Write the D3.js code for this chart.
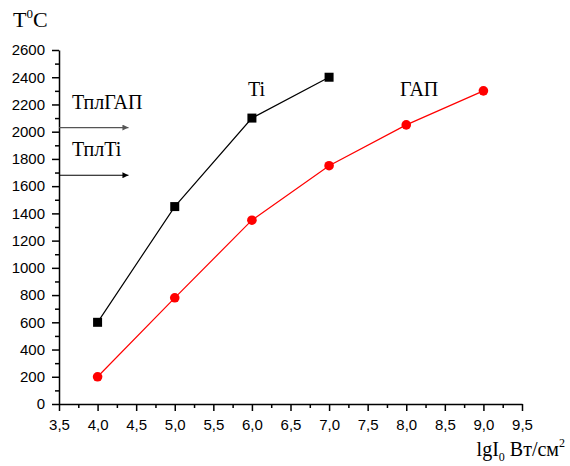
<!DOCTYPE html>
<html><head><meta charset="utf-8">
<script src="https://cdn.jsdelivr.net/npm/d3@7"></script>
<style>body{margin:0;background:#fff}</style>
</head><body>
<svg id="c" width="570" height="466"></svg>
<script>
const xTicks = [3.5,4.0,4.5,5.0,5.5,6.0,6.5,7.0,7.5,8.0,8.5,9.0,9.5];
const yTicks = [0,200,400,600,800,1000,1200,1400,1600,1800,2000,2200,2400,2600];
const tiX = [4,5,6,7];
const tiY = [600,1450,2100,2400];
const gapX = [4,5,6,7,8,9];
const gapY = [200,780,1350,1750,2050,2300];
const meltLevels = [2030,1680]; // Тпл ГАП, Тпл Ti
const meltLabels = ["ТплГАП","ТплTi"];

const svg = d3.select("#c");
const x = d3.scaleLinear().domain([3.5,9.5]).range([59,522]);
const y = d3.scaleLinear().domain([0,2600]).range([404,50]);

const fmt = d => d.toFixed(1).replace(".", ",");
// X axis
const xa = svg.append("g").attr("transform","translate(0,404)");
xa.call(d3.axisBottom(x).tickValues(xTicks).tickFormat(fmt).tickSize(7).tickSizeOuter(0).tickPadding(8));
xa.append("g").call(d3.axisBottom(x).tickValues(d3.range(3.75,9.5,0.5)).tickFormat("").tickSize(4).tickSizeOuter(0))
  .select(".domain").remove();
// Y axis
const ya = svg.append("g").attr("transform","translate(59,0)");
ya.call(d3.axisLeft(y).tickValues(yTicks).tickFormat(d3.format("d")).tickSize(7).tickSizeOuter(0).tickPadding(7));
ya.append("g").call(d3.axisLeft(y).tickValues(d3.range(100,2600,200)).tickFormat("").tickSize(4).tickSizeOuter(0))
  .select(".domain").remove();
svg.selectAll(".tick text").attr("font-family","Liberation Sans, Arial, sans-serif").attr("font-size",15).attr("fill","#000");
svg.selectAll(".domain, .tick line").attr("stroke","#000").attr("stroke-width",1.5);

// Melting arrows
const defs = svg.append("defs");
["#555","#000"].forEach((c,i)=>{
  defs.append("marker").attr("id","ar"+i).attr("viewBox","0 0 10 10").attr("refX",10).attr("refY",5)
    .attr("markerWidth",8).attr("markerHeight",6).attr("markerUnits","userSpaceOnUse").attr("orient","auto")
    .append("path").attr("d","M0,0L10,5L0,10z").attr("fill",c);
});
const serif = "Liberation Serif, Times New Roman, serif";
meltLevels.forEach((v,i)=>{
  svg.append("line").attr("x1",x(3.5)).attr("x2",x(4.4)).attr("y1",y(v)).attr("y2",y(v))
    .attr("stroke",i===0?"#555":"#000").attr("stroke-width",1.2).attr("marker-end","url(#ar"+i+")");
  svg.append("text").attr("x",72).attr("y",y(v)-19).text(meltLabels[i])
    .attr("font-family",serif).attr("font-size",20);
});

// Lines
const line = d3.line().x(d=>x(d[0])).y(d=>y(d[1]));
const ti = tiX.map((v,i)=>[v,tiY[i]]);
const gap = gapX.map((v,i)=>[v,gapY[i]]);
svg.append("path").datum(ti).attr("d",line).attr("fill","none").attr("stroke","#000").attr("stroke-width",1.2);
svg.append("path").datum(gap).attr("d",line).attr("fill","none").attr("stroke","#f00").attr("stroke-width",1.2);
svg.selectAll(".sq").data(ti).enter().append("rect")
  .attr("x",d=>x(d[0])-4.5).attr("y",d=>y(d[1])-4.5).attr("width",9).attr("height",9).attr("fill","#000");
svg.selectAll(".ci").data(gap).enter().append("circle")
  .attr("cx",d=>x(d[0])).attr("cy",d=>y(d[1])).attr("r",4.8).attr("fill","#f00");

// Labels
svg.append("text").attr("x",248).attr("y",96).text("Ti").attr("font-family",serif).attr("font-size",20);
svg.append("text").attr("x",400).attr("y",96).text("ГАП").attr("font-family",serif).attr("font-size",20);
const tt = svg.append("text").attr("x",13).attr("y",27).attr("font-family",serif).attr("font-size",22);
tt.append("tspan").text("T");
tt.append("tspan").text("0").attr("font-size",13).attr("dy",-9);
tt.append("tspan").text("C").attr("dy",9);
const xl = svg.append("text").attr("x",565).attr("y",456).attr("text-anchor","end").attr("font-family",serif).attr("font-size",20);
xl.append("tspan").text("lgI");
xl.append("tspan").text("0").attr("font-size",12).attr("dy",5);
xl.append("tspan").text(" Вт/см").attr("dy",-5);
xl.append("tspan").text("2").attr("font-size",12).attr("dy",-9);
</script>
</body></html>
